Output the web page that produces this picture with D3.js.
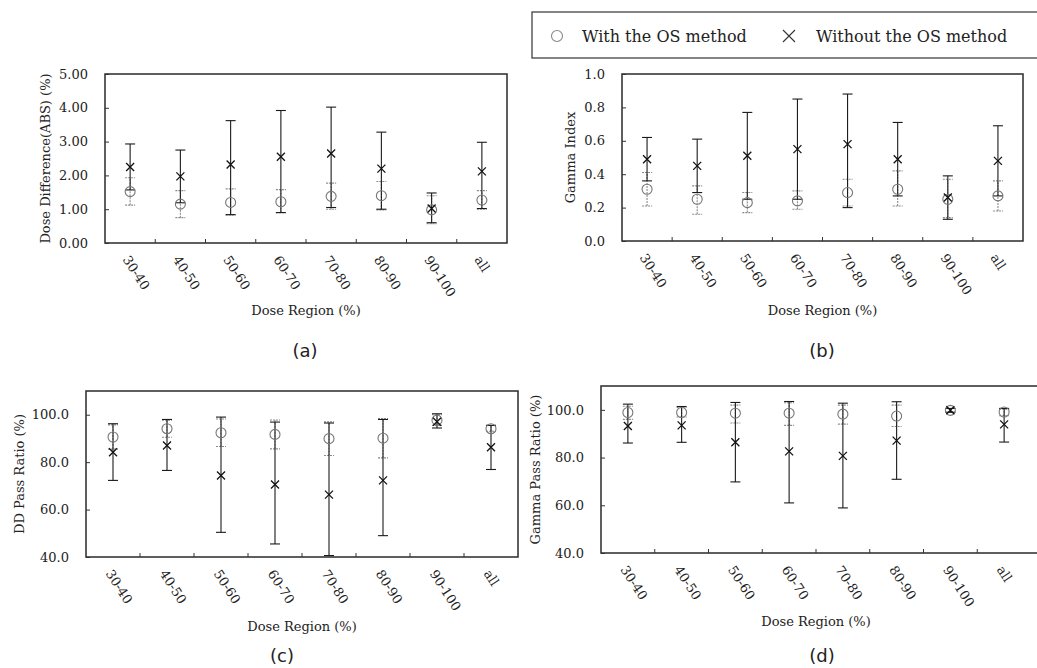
<!DOCTYPE html>
<html>
<head>
<meta charset="utf-8">
<script src="https://cdn.jsdelivr.net/npm/d3@7"></script>
<style>
  body { margin: 0; background: #fff; }
  text { font-family: "DejaVu Serif", "Liberation Serif", serif; fill: #222; }
</style>
</head>
<body>
<div id="chartContainer"></div>
<script>
'use strict';

// Dose regions shared by every panel
const categories = ["30-40", "40-50", "50-60", "60-70", "70-80", "80-90", "90-100", "all"];

// (a) Dose difference (ABS) %
const ddAbsWithMean = [1.52, 1.15, 1.20, 1.22, 1.38, 1.40, 0.98, 1.27];
const ddAbsWithLow = [1.12, 0.75, 0.82, 0.90, 1.00, 0.98, 0.57, 1.00];
const ddAbsWithHigh = [1.93, 1.55, 1.60, 1.58, 1.77, 1.82, 1.40, 1.55];
const ddAbsWithoutMean = [2.25, 1.97, 2.32, 2.55, 2.65, 2.20, 1.02, 2.12];
const ddAbsWithoutLow = [1.57, 1.19, 0.84, 0.90, 1.05, 1.00, 0.60, 1.02];
const ddAbsWithoutHigh = [2.93, 2.75, 3.62, 3.92, 4.02, 3.28, 1.48, 2.98];

// (b) Gamma index
const gammaWithMean = [0.31, 0.25, 0.23, 0.24, 0.29, 0.31, 0.25, 0.27];
const gammaWithLow = [0.21, 0.16, 0.17, 0.19, 0.21, 0.21, 0.14, 0.18];
const gammaWithHigh = [0.41, 0.33, 0.29, 0.30, 0.37, 0.42, 0.37, 0.36];
const gammaWithoutMean = [0.49, 0.45, 0.51, 0.55, 0.58, 0.49, 0.26, 0.48];
const gammaWithoutLow = [0.36, 0.29, 0.25, 0.25, 0.20, 0.27, 0.13, 0.27];
const gammaWithoutHigh = [0.62, 0.61, 0.77, 0.85, 0.88, 0.71, 0.39, 0.69];

// (c) DD pass ratio %
const ddPassWithMean = [90.6, 94.1, 92.4, 91.7, 89.9, 90.1, 97.7, 94.1];
const ddPassWithLow = [85.5, 90.5, 86.6, 85.6, 82.8, 81.8, 95.5, 93.0];
const ddPassWithHigh = [95.7, 97.7, 98.2, 97.8, 97.0, 98.4, 100.0, 95.5];
const ddPassWithoutMean = [84.2, 87.0, 74.4, 70.6, 66.3, 72.3, 97.0, 86.3];
const ddPassWithoutLow = [72.3, 76.5, 50.4, 45.5, 40.6, 49.0, 94.4, 76.9];
const ddPassWithoutHigh = [96.2, 98.0, 99.0, 96.9, 96.5, 98.0, 100.4, 95.5];

// (d) Gamma pass ratio %
const gammaPassWithMean = [98.9, 98.9, 98.6, 98.6, 98.2, 97.4, 99.8, 99.1];
const gammaPassWithLow = [96.0, 97.0, 94.5, 93.5, 94.0, 93.0, 99.0, 97.5];
const gammaPassWithHigh = [101.5, 101.0, 102.0, 103.0, 102.0, 102.0, 100.6, 100.3];
const gammaPassWithoutMean = [93.2, 93.5, 86.4, 82.6, 80.7, 87.1, 99.8, 93.9];
const gammaPassWithoutLow = [86.1, 86.4, 69.8, 61.0, 58.9, 70.9, 99.0, 86.5];
const gammaPassWithoutHigh = [102.4, 101.4, 103.1, 103.5, 102.8, 103.4, 100.6, 100.6];

// Tick values for the y axes
const ddAbsTicks = [0, 1, 2, 3, 4, 5];
const gammaTicks = [0, 0.2, 0.4, 0.6, 0.8, 1.0];
const passTicks = [40, 60, 80, 100];

const seriesNames = ["With the OS method", "Without the OS method"];

const toRows = (mean, low, high) => categories.map((c, i) => ({ cat: c, mean: mean[i], low: low[i], high: high[i] }));

// Panel layout, built from the arrays above
const panels = [
    { caption: "(a)", left: 105, top: 74, right: 507, bottom: 243, domain: [0, 5], ticks: ddAbsTicks, fmt: ".2f",
      yLabel: "Dose Difference(ABS) (%)", yLabelX: 45, titleY: 310, capX: 305, capY: 351,
      withRows: toRows(ddAbsWithMean, ddAbsWithLow, ddAbsWithHigh),
      withoutRows: toRows(ddAbsWithoutMean, ddAbsWithoutLow, ddAbsWithoutHigh) },
    { caption: "(b)", left: 622, top: 74, right: 1023, bottom: 241, domain: [0, 1], ticks: gammaTicks, fmt: ".1f",
      yLabel: "Gamma Index", yLabelX: 570, titleY: 310, capX: 822, capY: 351,
      withRows: toRows(gammaWithMean, gammaWithLow, gammaWithHigh),
      withoutRows: toRows(gammaWithoutMean, gammaWithoutLow, gammaWithoutHigh) },
    { caption: "(c)", left: 86, top: 391, right: 518, bottom: 557, domain: [40, 110], ticks: passTicks, fmt: ".1f",
      yLabel: "DD Pass Ratio (%)", yLabelX: 19, titleY: 626, capX: 282, capY: 656,
      withRows: toRows(ddPassWithMean, ddPassWithLow, ddPassWithHigh),
      withoutRows: toRows(ddPassWithoutMean, ddPassWithoutLow, ddPassWithoutHigh) },
    { caption: "(d)", left: 601, top: 386, right: 1031, bottom: 553, domain: [40, 110], ticks: passTicks, fmt: ".1f",
      yLabel: "Gamma Pass Ratio (%)", yLabelX: 535, titleY: 621, capX: 822, capY: 656, openRight: true,
      withRows: toRows(gammaPassWithMean, gammaPassWithLow, gammaPassWithHigh),
      withoutRows: toRows(gammaPassWithoutMean, gammaPassWithoutLow, gammaPassWithoutHigh) }
];

const svg = d3.select("#chartContainer")
    .append("svg")
    .attr("width", 1037)
    .attr("height", 668);

// Draws error bars with caps for one series
const plotErrorBars = (g, rows, x, y, color, dash) => {
    const cx = d => x(d.cat) + x.bandwidth() / 2;
    const bars = g.append("g")
        .attr("stroke", color)
        .attr("stroke-width", 1.1)
        .attr("stroke-dasharray", dash)
        .selectAll("g")
        .data(rows)
        .enter()
        .append("g");
    bars.append("line")
        .attr("x1", cx).attr("x2", cx)
        .attr("y1", d => y(d.low)).attr("y2", d => y(d.high));
    bars.append("line")
        .attr("x1", d => cx(d) - 5).attr("x2", d => cx(d) + 5)
        .attr("y1", d => y(d.high)).attr("y2", d => y(d.high));
    bars.append("line")
        .attr("x1", d => cx(d) - 5).attr("x2", d => cx(d) + 5)
        .attr("y1", d => y(d.low)).attr("y2", d => y(d.low));
}

const crossPath = s => "M" + (-s) + "," + (-s) + "L" + s + "," + s + "M" + (-s) + "," + s + "L" + s + "," + (-s);

// Draws one full panel: frame, axes, labels, error bars and markers
const plotPanel = (p) => {
    const x = d3.scaleBand()
        .domain(categories)
        .range([p.left, p.right]);

    const y = d3.scaleLinear()
        .domain(p.domain)
        .range([p.bottom, p.top]);

    const g = svg.append("g");

    // frame
    const frameRight = p.openRight ? 1045 : p.right;
    g.append("rect")
        .attr("x", p.left)
        .attr("y", p.top)
        .attr("width", frameRight - p.left)
        .attr("height", p.bottom - p.top)
        .attr("fill", "none")
        .attr("stroke", "#2a2a2a")
        .attr("stroke-width", 1.5);

    // y axis, ticks pointing inside
    const yAxis = g.append("g")
        .attr("transform", "translate(" + p.left + ",0)")
        .call(d3.axisLeft(y).tickValues(p.ticks).tickFormat(d3.format(p.fmt)).tickSizeInner(-4).tickSizeOuter(0).tickPadding(17));
    yAxis.select(".domain").remove();
    yAxis.selectAll("line").attr("stroke", "#333");
    yAxis.selectAll("text")
        .style("font-size", "13px")
        .attr("fill", "#222");

    // x ticks at the band boundaries, pointing inside
    g.append("g")
        .selectAll("line")
        .data(categories.slice(1))
        .enter()
        .append("line")
        .attr("x1", d => x(d)).attr("x2", d => x(d))
        .attr("y1", p.bottom).attr("y2", p.bottom - 4)
        .attr("stroke", "#333");

    // rotated category labels
    g.append("g")
        .selectAll("text")
        .data(categories)
        .enter()
        .append("text")
        .attr("transform", d => "translate(" + (x(d) + x.bandwidth() / 2 - 4) + "," + (p.bottom + 14) + ") rotate(57)")
        .attr("dy", "0.35em")
        .style("font-size", "13px")
        .text(d => d);

    // axis titles and caption
    g.append("text")
        .attr("x", (p.left + p.right) / 2)
        .attr("y", p.titleY)
        .attr("dy", "0.35em")
        .style("text-anchor", "middle")
        .style("font-size", "13px")
        .text("Dose Region (%)");

    g.append("text")
        .attr("transform", "translate(" + p.yLabelX + "," + ((p.top + p.bottom) / 2) + ") rotate(-90)")
        .attr("dy", "0.35em")
        .style("text-anchor", "middle")
        .style("font-size", "13px")
        .text(p.yLabel);

    g.append("text")
        .attr("x", p.capX)
        .attr("y", p.capY)
        .attr("dy", "0.35em")
        .style("text-anchor", "middle")
        .style("font-family", "'DejaVu Sans', sans-serif")
        .style("font-size", "18px")
        .text(p.caption);

    plotErrorBars(g, p.withRows, x, y, "#8a8a8a", "2,1");
    plotErrorBars(g, p.withoutRows, x, y, "#1a1a1a", null);

    // markers
    g.append("g")
        .selectAll("circle")
        .data(p.withRows)
        .enter()
        .append("circle")
        .attr("cx", d => x(d.cat) + x.bandwidth() / 2)
        .attr("cy", d => y(d.mean))
        .attr("r", 5)
        .attr("fill", "none")
        .attr("stroke", "#777")
        .attr("stroke-width", 1.1);

    g.append("g")
        .selectAll("path")
        .data(p.withoutRows)
        .enter()
        .append("path")
        .attr("transform", d => "translate(" + (x(d.cat) + x.bandwidth() / 2) + "," + y(d.mean) + ")")
        .attr("d", crossPath(4))
        .attr("stroke", "#111")
        .attr("stroke-width", 1.3);
}

// Legend box at the top right
const plotLegend = () => {
    const lg = svg.append("g");
    lg.append("rect")
        .attr("x", 532).attr("y", 12)
        .attr("width", 520).attr("height", 46)
        .attr("fill", "none")
        .attr("stroke", "#333")
        .attr("stroke-width", 1.2);
    lg.append("circle")
        .attr("cx", 557).attr("cy", 36).attr("r", 5.5)
        .attr("fill", "none").attr("stroke", "#888").attr("stroke-width", 1.1);
    lg.append("path")
        .attr("transform", "translate(789,36)")
        .attr("d", crossPath(6))
        .attr("stroke", "#333").attr("stroke-width", 1.1);
    lg.selectAll("text")
        .data(seriesNames)
        .enter()
        .append("text")
        .attr("x", (d, i) => i === 0 ? 582 : 816)
        .attr("y", 36)
        .attr("dy", "0.35em")
        .style("font-size", "16px")
        .text(d => d);
}

panels.forEach(plotPanel);
plotLegend();
</script>
</body>
</html>
